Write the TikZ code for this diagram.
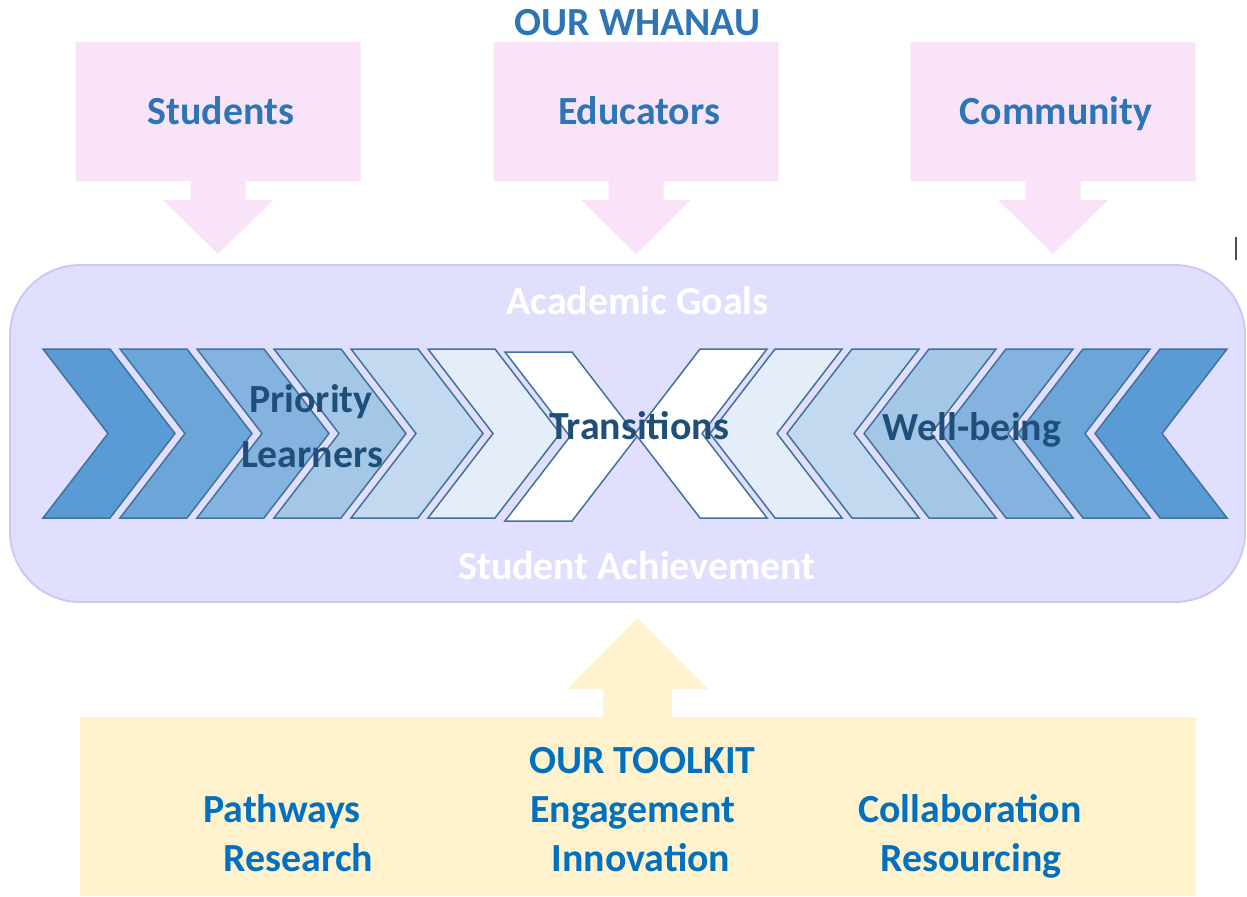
\documentclass[tikz,border=0pt]{standalone}
\usepackage{fontspec}
\setmainfont{Carlito}
\usepackage{tikz}
\usetikzlibrary{calc}

\definecolor{whanaublue}{HTML}{2E75B6}
\definecolor{toolblue}{HTML}{0070C0}
\definecolor{chevtext}{HTML}{1F4E79}
\definecolor{chevline}{HTML}{41719C}
\definecolor{pinkbox}{HTML}{F8E3F8}
\definecolor{goalfill}{HTML}{E0DFFE}
\definecolor{goalline}{HTML}{C9C9F7}
\definecolor{toolfill}{HTML}{FFF2CC}
\definecolor{chevA}{HTML}{5B9BD5}
\definecolor{chevB}{HTML}{6CA6D8}
\definecolor{chevC}{HTML}{84B3E0}
\definecolor{chevD}{HTML}{A5C7E7}
\definecolor{chevE}{HTML}{C2D9F0}
\definecolor{chevF}{HTML}{E4EDF8}

\tikzset{
	bigtext/.style={font=\fontsize{22.7}{27}\selectfont\bfseries, inner sep=0pt, anchor=base},
	chevron/.style={draw=chevline, line width=0.85pt, line join=miter},
}

\begin{document}
\begin{tikzpicture}[x=0.02cm, y=-0.02cm]
	\def\ytop{349}
	\def\ybot{518}
	\def\ymid{433.5}
	\def\cedge{67}
	\def\cdepth{65}
	\def\cgap{77}

	\useasboundingbox (0,0) rectangle (1247,896);

	% whanau callouts
	\foreach \cx/\lbl/\nm in {218/Students/stud, 636/Educators/educ, 1053/Community/comm}{
		\fill[pinkbox]	(\cx-142.5,42) -- ++(285,0) -- ++(0,139) -- (\cx+27.5,181) -- (\cx+27.5,200) -- (\cx+55,200)
						-- (\cx,254) -- (\cx-55,200) -- (\cx-27.5,200) -- (\cx-27.5,181) -- (\cx-142.5,181) -- cycle;
		\node[bigtext, text=whanaublue] (\nm) at (\cx+3,124) {\lbl};
	}
	\node[bigtext, text=whanaublue] (whanau) at (637.5,35) {OUR WHANAU};

	% goals panel
	\draw[goalline, fill=goalfill, line width=1.1pt, rounded corners=40] (10,265) rectangle (1245,602);
	\node[bigtext, text=white] (goals) at (637.5,314) {Academic Goals};
	\node[bigtext, text=white] (achieve) at (637,579) {Student Achievement};

	% chevrons pointing right and left
	\foreach \c [count=\i from 0] in {chevA,chevB,chevC,chevD,chevE,chevF}{
		\pgfmathsetmacro\xl{43+\cgap*\i}
		\pgfmathsetmacro\xr{1227-\cgap*\i}
		\draw[chevron, fill=\c] (\xl,\ytop) -- ++(\cedge,0) -- (\xl+\cedge+\cdepth,\ymid) -- (\xl+\cedge,\ybot) -- (\xl,\ybot) -- (\xl+\cdepth,\ymid) -- cycle;
		\draw[chevron, fill=\c] (\xr,\ytop) -- ++(-\cedge,0) -- (\xr-\cedge-\cdepth,\ymid) -- (\xr-\cedge,\ybot) -- (\xr,\ybot) -- (\xr-\cdepth,\ymid) -- cycle;
	}
	\draw[chevron, fill=white] (505,352) -- ++(\cedge,0) -- (505+\cedge+\cdepth,436.5) -- (505+\cedge,521) -- (505,521) -- (505+\cdepth,436.5) -- cycle;
	\draw[chevron, fill=white] (767,\ytop) -- ++(-\cedge,0) -- (767-\cedge-\cdepth,\ymid) -- (767-\cedge,\ybot) -- (767,\ybot) -- (767-\cdepth,\ymid) -- cycle;

	\node[bigtext, text=chevtext] (prio) at (311,412) {Priority};
	\node[bigtext, text=chevtext] (learn) at (312,467) {Learners};
	\node[bigtext, text=chevtext] (trans) at (639,439) {Transitions};
	\node[bigtext, text=chevtext] (well) at (972,440) {Well-being};

	% toolkit
	\fill[toolfill] (80,896) -- (80,717) -- (603,717) -- (603,689) -- (567,689) -- (637.5,618) -- (708,689)
					-- (672,689) -- (672,717) -- (1196,717) -- (1196,896) -- cycle;
	\node[bigtext, text=toolblue] (toolkit) at (642.5,773) {OUR TOOLKIT};
	\node[bigtext, text=toolblue] (path) at (282,822) {Pathways};
	\node[bigtext, text=toolblue] (research) at (298.5,871) {Research};
	\node[bigtext, text=toolblue] (engage) at (632.5,822) {Engagement};
	\node[bigtext, text=toolblue] (innov) at (641,871) {Innovation};
	\node[bigtext, text=toolblue] (collab) at (970,822) {Collaboration};
	\node[bigtext, text=toolblue] (resource) at (971,871) {Resourcing};

	\draw[black!70, line width=0.6pt] (1236,237) -- (1236,260);
\end{tikzpicture}
\end{document}
